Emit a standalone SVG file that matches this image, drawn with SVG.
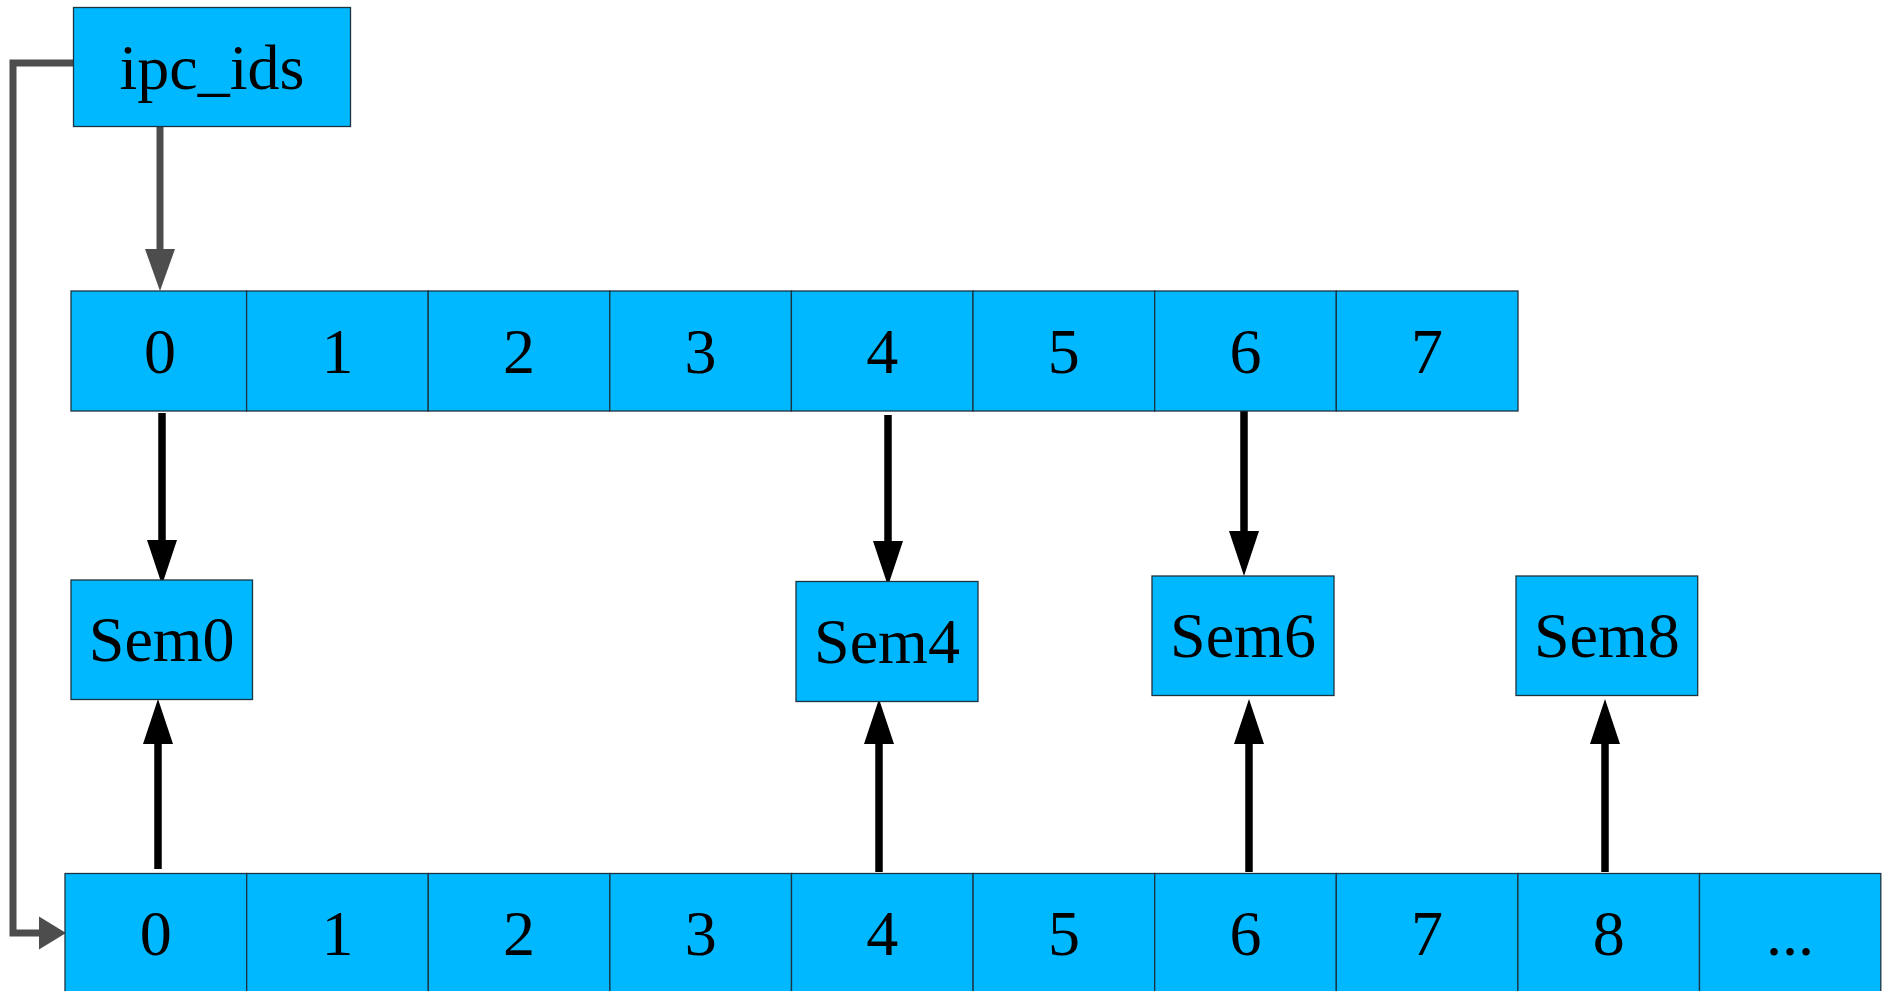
<svg xmlns="http://www.w3.org/2000/svg" width="1886" height="991" viewBox="0 0 1886 991">
<style>
.box{fill:#00b8ff;stroke:#1c3440;stroke-width:1.3}
.t{font-family:"Liberation Serif","Times New Roman",serif;font-size:64px;fill:#000;text-anchor:middle}
.blk{stroke:#000;stroke-width:7.5;fill:none}
.gry{stroke:#4d4d4d;stroke-width:7;fill:none}
</style>
<defs>
<marker id="hb" markerUnits="userSpaceOnUse" orient="auto" overflow="visible" refX="0" refY="0" markerWidth="1" markerHeight="1">
<path d="M-1,-15 L44,0 L-1,15 Z" fill="#000"/>
</marker>
<marker id="hg" markerUnits="userSpaceOnUse" orient="auto" overflow="visible" refX="0" refY="0" markerWidth="1" markerHeight="1">
<path d="M-1,-15 L41,0 L-1,15 Z" fill="#4d4d4d"/>
</marker>
<marker id="hgs" markerUnits="userSpaceOnUse" orient="auto" overflow="visible" refX="0" refY="0" markerWidth="1" markerHeight="1">
<path d="M-1,-16.5 L26,0 L-1,16.5 Z" fill="#4d4d4d"/>
</marker>
</defs>

<g id="connectors">
<polyline class="gry" points="73,63 13,63 13,933 40,933" marker-end="url(#hgs)" stroke-linejoin="miter"/>
<line class="gry" x1="160" y1="127" x2="160" y2="250" marker-end="url(#hg)"/>
<line class="blk" x1="162" y1="413" x2="162" y2="541" marker-end="url(#hb)"/>
<line class="blk" x1="888" y1="415" x2="888" y2="542" marker-end="url(#hb)"/>
<line class="blk" x1="1244" y1="411" x2="1244" y2="532" marker-end="url(#hb)"/>
<line class="blk" x1="158" y1="869" x2="158" y2="743" marker-end="url(#hb)"/>
<line class="blk" x1="879" y1="872" x2="879" y2="743" marker-end="url(#hb)"/>
<line class="blk" x1="1249" y1="872" x2="1249" y2="743" marker-end="url(#hb)"/>
<line class="blk" x1="1605" y1="872" x2="1605" y2="743" marker-end="url(#hb)"/>
</g>

<g id="ipc_ids">
<rect class="box" x="73.5" y="7.5" width="277" height="119"/>
<text class="t" x="212" y="89">ipc_ids</text>
</g>

<g id="top-array">
<g id="top0"><rect class="box" x="71" y="291" width="175.6" height="120"/><text class="t" x="160" y="373">0</text></g>
<g id="top1"><rect class="box" x="246.6" y="291" width="181.6" height="120"/><text class="t" x="337.4" y="373">1</text></g>
<g id="top2"><rect class="box" x="428.2" y="291" width="181.6" height="120"/><text class="t" x="519" y="373">2</text></g>
<g id="top3"><rect class="box" x="609.8" y="291" width="181.6" height="120"/><text class="t" x="700.6" y="373">3</text></g>
<g id="top4"><rect class="box" x="791.4" y="291" width="181.6" height="120"/><text class="t" x="882.2" y="373">4</text></g>
<g id="top5"><rect class="box" x="973" y="291" width="181.7" height="120"/><text class="t" x="1063.8" y="373">5</text></g>
<g id="top6"><rect class="box" x="1154.7" y="291" width="181.6" height="120"/><text class="t" x="1245.5" y="373">6</text></g>
<g id="top7"><rect class="box" x="1336.3" y="291" width="181.7" height="120"/><text class="t" x="1427.1" y="373">7</text></g>
</g>

<g id="sem0"><rect class="box" x="71" y="580" width="181.5" height="119.5"/><text class="t" x="161.7" y="661">Sem0</text></g>
<g id="sem4"><rect class="box" x="796" y="581.5" width="182" height="120"/><text class="t" x="887" y="663">Sem4</text></g>
<g id="sem6"><rect class="box" x="1152" y="576" width="182" height="119.5"/><text class="t" x="1243" y="657">Sem6</text></g>
<g id="sem8"><rect class="box" x="1516" y="576" width="181.7" height="119.5"/><text class="t" x="1606.8" y="657">Sem8</text></g>

<g id="bottom-array">
<g id="b0"><rect class="box" x="65" y="873.5" width="181.7" height="122"/><text class="t" x="155.8" y="955">0</text></g>
<g id="b1"><rect class="box" x="246.7" y="873.5" width="181.6" height="122"/><text class="t" x="337.5" y="955">1</text></g>
<g id="b2"><rect class="box" x="428.3" y="873.5" width="181.6" height="122"/><text class="t" x="519.1" y="955">2</text></g>
<g id="b3"><rect class="box" x="609.9" y="873.5" width="181.6" height="122"/><text class="t" x="700.7" y="955">3</text></g>
<g id="b4"><rect class="box" x="791.5" y="873.5" width="181.6" height="122"/><text class="t" x="882.3" y="955">4</text></g>
<g id="b5"><rect class="box" x="973.1" y="873.5" width="181.6" height="122"/><text class="t" x="1063.9" y="955">5</text></g>
<g id="b6"><rect class="box" x="1154.7" y="873.5" width="181.6" height="122"/><text class="t" x="1245.5" y="955">6</text></g>
<g id="b7"><rect class="box" x="1336.3" y="873.5" width="181.6" height="122"/><text class="t" x="1427.1" y="955">7</text></g>
<g id="b8"><rect class="box" x="1517.9" y="873.5" width="181.6" height="122"/><text class="t" x="1608.7" y="955">8</text></g>
<g id="b9"><rect class="box" x="1699.5" y="873.5" width="181.3" height="122"/><text class="t" x="1790" y="955">...</text></g>
</g>
</svg>
